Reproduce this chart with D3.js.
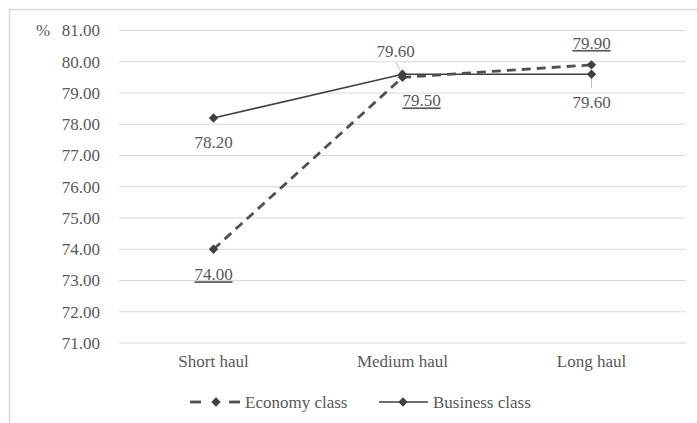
<!DOCTYPE html>
<html><head><meta charset="utf-8">
<script src="https://cdn.jsdelivr.net/npm/d3@7"></script>
</head><body style="margin:0;background:#fff">
<script>
const categories = ["Short haul", "Medium haul", "Long haul"];
const economy = [74.00, 79.50, 79.90];
const business = [78.20, 79.60, 79.60];
const yTicks = [71, 72, 73, 74, 75, 76, 77, 78, 79, 80, 81];
const seriesNames = ["Economy class", "Business class"];

const W = 697, H = 423;
const FF = '"Liberation Serif"';
const txt = "#595959", lineC = "#404040";
const svg = d3.select("body").append("svg").attr("width", W).attr("height", H).style("display", "block");

svg.append("rect").attr("x", 9.5).attr("y", 9.5).attr("width", W + 10).attr("height", H + 10)
  .attr("fill", "#fff").attr("stroke", "#d9d9d9").attr("stroke-width", 1.5);

const x = d3.scaleBand().domain(categories).range([119, 686]);
const y = d3.scaleLinear().domain([71, 81]).range([343, 30.5]);
const cx = d => x(d) + x.bandwidth() / 2;

svg.append("g").selectAll("line").data(yTicks).join("line")
  .attr("x1", 119).attr("x2", 686).attr("y1", d => y(d)).attr("y2", d => y(d))
  .attr("stroke", "#d9d9d9").attr("stroke-width", 1);

const yAxis = d3.axisLeft(y).tickValues(yTicks).tickFormat(d3.format(".2f")).tickSize(0).tickPadding(19);
const ga = svg.append("g").attr("transform", "translate(119,0)").call(yAxis);
ga.select(".domain").remove();
ga.selectAll("text").style("font-family", FF).attr("font-size", 17).attr("fill", txt);

svg.append("text").attr("x", 36).attr("y", y(81) + 5).attr("font-size", 17).style("font-family", FF)
  .attr("fill", txt).text("%");

const xAxis = d3.axisBottom(x).tickSize(0).tickPadding(12);
const gx = svg.append("g").attr("transform", "translate(0,343)").call(xAxis);
gx.select(".domain").remove();
gx.selectAll("text").style("font-family", FF).attr("font-size", 17).attr("fill", txt);

const line = d3.line().x((d, i) => cx(categories[i])).y(d => y(d));
const diamond = d3.symbol().type(d3.symbolSquare).size(44);

svg.append("line").attr("x1", cx(categories[1]) - 7).attr("y1", y(79.6) - 12)
  .attr("x2", cx(categories[1])).attr("y2", y(79.6)).attr("stroke", "#bfbfbf").attr("stroke-width", 1);
svg.append("line").attr("x1", cx(categories[2])).attr("y1", y(79.6))
  .attr("x2", cx(categories[2])).attr("y2", y(79.6) + 14).attr("stroke", "#bfbfbf").attr("stroke-width", 1);

svg.append("path").datum(business).attr("d", line).attr("fill", "none")
  .attr("stroke", lineC).attr("stroke-width", 1.6);
svg.append("path").datum(economy).attr("d", line).attr("fill", "none")
  .attr("stroke", "#505050").attr("stroke-width", 2.8).attr("stroke-dasharray", "9,6");

svg.append("g").selectAll("path").data(business).join("path")
  .attr("transform", (d, i) => `translate(${cx(categories[i])},${y(d)}) rotate(45)`)
  .attr("d", diamond).attr("fill", lineC);
svg.append("g").selectAll("path").data(economy).join("path")
  .attr("transform", (d, i) => `translate(${cx(categories[i])},${y(d)}) rotate(45)`)
  .attr("d", diamond).attr("fill", lineC);

const bOff = [[0, 30], [-7, -17], [0, 34]];
const eOff = [[0, 31], [19, 29], [0, -16]];
function labels(data, offs, underline) {
  data.forEach((d, i) => {
    const t = svg.append("text").attr("x", cx(categories[i]) + offs[i][0]).attr("y", y(d) + offs[i][1])
      .attr("text-anchor", "middle").attr("font-size", 17).style("font-family", FF).attr("fill", txt)
      .text(d3.format(".2f")(d));
    if (underline) t.attr("text-decoration", "underline");
  });
}
labels(business, bOff, false);
labels(economy, eOff, true);

const ly = 402;
const lg = svg.append("g");
[[190, 201], [229, 240]].forEach(s => lg.append("line").attr("x1", s[0]).attr("x2", s[1])
  .attr("y1", ly).attr("y2", ly).attr("stroke", "#505050").attr("stroke-width", 2.8));
lg.append("path").attr("transform", `translate(216,${ly}) rotate(45)`).attr("d", diamond).attr("fill", lineC);
lg.append("text").attr("x", 245).attr("y", ly + 6).attr("font-size", 17).style("font-family", FF)
  .attr("fill", txt).text(seriesNames[0]);
lg.append("line").attr("x1", 379).attr("x2", 428).attr("y1", ly).attr("y2", ly)
  .attr("stroke", lineC).attr("stroke-width", 1.6);
lg.append("path").attr("transform", `translate(403,${ly}) rotate(45)`).attr("d", diamond).attr("fill", lineC);
lg.append("text").attr("x", 433).attr("y", ly + 6).attr("font-size", 17).style("font-family", FF)
  .attr("fill", txt).text(seriesNames[1]);
</script>
</body></html>
